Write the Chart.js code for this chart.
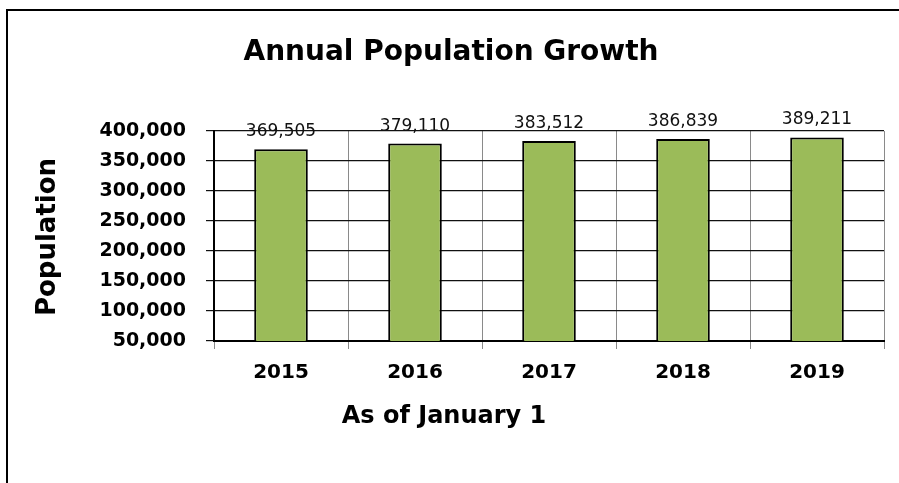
<!DOCTYPE html>
<html>
<head>
<meta charset="utf-8">
<script src="https://cdn.jsdelivr.net/npm/chart.js@4"></script>
<style>
  html, body { margin: 0; padding: 0; background: #fff; }
  #wrap { width: 899px; height: 483px; position: relative; }
</style>
</head>
<body>
<div id="wrap"><canvas id="popChart"></canvas></div>
<script>
// chart data
const years = ['2015', '2016', '2017', '2018', '2019'];
const population = [369505, 379110, 383512, 386839, 389211];
const yTicks = [50000, 100000, 150000, 200000, 250000, 300000, 350000, 400000];

const FONT = "'DejaVu Sans', sans-serif";

function fmt(v) {
    return v.toLocaleString('en-US');
}

// value labels above the bars + titles + frame
const extras = {
    id: 'extras',
    afterDatasetsDraw(chart) {
        const ctx = chart.ctx;
        const meta = chart.getDatasetMeta(0);
        ctx.save();
        ctx.fillStyle = '#111';
        ctx.font = '17px ' + FONT;
        ctx.textAlign = 'center';
        ctx.textBaseline = 'alphabetic';
        meta.data.forEach((bar, i) => {
            ctx.fillText(fmt(population[i]), bar.x, bar.y - 13);
        });
        ctx.restore();
    },
    afterDraw(chart) {
        const ctx = chart.ctx;
        ctx.save();
        // outer frame (top and left only visible)
        ctx.strokeStyle = '#000';
        ctx.lineWidth = 2;
        ctx.beginPath();
        ctx.moveTo(899, 10);
        ctx.lineTo(7, 10);
        ctx.lineTo(7, 483);
        ctx.stroke();

        ctx.fillStyle = '#000';
        ctx.textAlign = 'center';
        ctx.textBaseline = 'middle';
        ctx.font = 'bold 28px ' + FONT;
        ctx.fillText('Annual Population Growth', 451, 53);

        ctx.font = 'bold 24px ' + FONT;
        ctx.fillText('As of January 1', 444, 417);

        ctx.font = 'bold 26px ' + FONT;
        ctx.translate(48, 237);
        ctx.rotate(-Math.PI / 2);
        ctx.fillText('Population', 0, 0);
        ctx.restore();
    }
};

new Chart(document.getElementById('popChart'), {
    type: 'bar',
    data: {
        labels: years,
        datasets: [{
            data: population,
            backgroundColor: '#9BBB59',
            borderColor: '#000',
            borderWidth: 2,
            borderSkipped: false,
            barPercentage: 0.4,
            categoryPercentage: 1.0
        }]
    },
    options: {
        responsive: true,
        maintainAspectRatio: false,
        animation: false,
        layout: { padding: { top: 131, right: 15, left: 0, bottom: 0 } },
        plugins: {
            legend: { display: false },
            tooltip: { enabled: false }
        },
        scales: {
            x: {
                afterFit: s => { s.height = 142; },
                grid: { color: '#8a8a8a', lineWidth: 1, tickLength: 8, offset: true },
                border: { color: '#000', width: 2 },
                ticks: {
                    color: '#000',
                    padding: 12,
                    font: { family: FONT, size: 20, weight: 'bold' }
                }
            },
            y: {
                min: 50000,
                max: 400000,
                afterFit: s => { s.width = 214; },
                afterBuildTicks: s => { s.ticks = yTicks.map(v => ({ value: v })); },
                grid: { color: '#111', lineWidth: 1.2, tickLength: 8 },
                border: { color: '#000', width: 2 },
                ticks: {
                    color: '#000',
                    padding: 20,
                    font: { family: FONT, size: 19, weight: 'bold' },
                    callback: v => fmt(v)
                }
            }
        }
    },
    plugins: [extras]
});
</script>
</body>
</html>
